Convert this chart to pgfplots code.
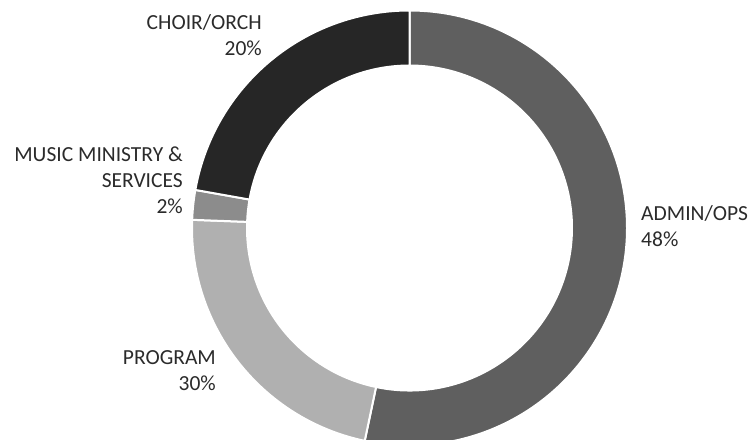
\documentclass[border=0pt]{standalone}
\usepackage{pgfplots}
\usepackage{pgfplotstable}
\pgfplotsset{compat=1.18}
\usepackage{fontspec}
\setmainfont{Carlito}
\definecolor{cAdmin}{HTML}{5F5F5F}
\definecolor{cProgram}{HTML}{B0B0B0}
\definecolor{cMusic}{HTML}{8C8C8C}
\definecolor{cChoir}{HTML}{262626}
\definecolor{txt}{HTML}{2B2B2B}
\pgfplotstableread{
name value
ADMIN 53.3
PROGRAM 22.3
MUSIC 2.2
CHOIR 22.2
}\datatable
\begin{document}
\begin{tikzpicture}
\pgfplotstablegetelem{0}{value}\of\datatable \let\vA\pgfplotsretval
\pgfplotstablegetelem{1}{value}\of\datatable \let\vB\pgfplotsretval
\pgfplotstablegetelem{2}{value}\of\datatable \let\vC\pgfplotsretval
\pgfplotstablegetelem{3}{value}\of\datatable \let\vD\pgfplotsretval
\pgfmathsetmacro\aA{90}
\pgfmathsetmacro\aB{\aA-3.6*\vA}
\pgfmathsetmacro\aC{\aB-3.6*\vB}
\pgfmathsetmacro\aD{\aC-3.6*\vC}
\pgfmathsetmacro\aE{\aD-3.6*\vD}
\def\slice#1#2#3{%
  \fill[#3, draw=white, line width=2pt, line join=miter]
    (axis cs:409.5,211) ++(#1:217.5pt)
    arc[start angle=#1, end angle=#2, radius=217.5pt]
    -- ++(#2:-55pt)
    arc[start angle=#2, end angle=#1, radius=162.5pt] -- cycle;}
\begin{axis}[
  x=1pt, y=1pt,
  xmin=0, xmax=752, ymin=0, ymax=439,
  hide axis, clip=true,
  scale only axis,
]
\slice{\aA}{\aB}{cAdmin}
\slice{\aB}{\aC}{cProgram}
\slice{\aC}{\aD}{cMusic}
\slice{\aD}{\aE}{cChoir}
\path (rel axis cs:0,0) rectangle (rel axis cs:1,1);
\begin{scope}[every node/.style={inner sep=0pt, text=txt, font=\fontsize{21.5}{26}\selectfont}]
\node[anchor=east, align=right] at (axis cs:262,404) {CHOIR/ORCH\\20\%};
\node[anchor=east, align=right] at (axis cs:183,259) {MUSIC MINISTRY \&\\SERVICES\\2\%};
\node[anchor=east, align=right] at (axis cs:216,68) {PROGRAM\\30\%};
\node[anchor=west, align=left] at (axis cs:641,212.5) {ADMIN/OPS\\48\%};
\end{scope}
\end{axis}
\end{tikzpicture}
\end{document}
